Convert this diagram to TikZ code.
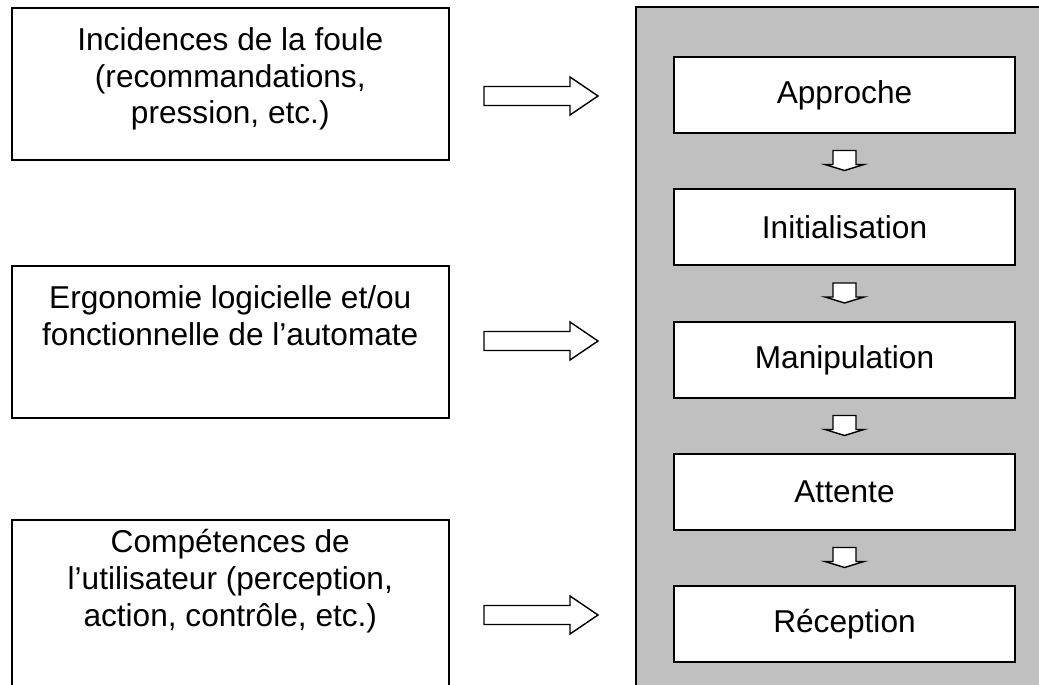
\documentclass[tikz,border=0pt]{standalone}
\usepackage{fontspec}
\setmainfont{Liberation Sans}
\usetikzlibrary{calc}
\newcommand\px{0.02cm}
\definecolor{panelgray}{HTML}{C0C0C0}
\tikzset{
  leftbox/.style={draw, line width=0.9pt, minimum width=437*\px, minimum height=152*\px, inner sep=0pt, anchor=north west},
  boxtext/.style={anchor=north, inner sep=0pt, align=center, font=\fontsize{18}{21}\selectfont},
  stepbox/.style={draw, fill=white, line width=0.9pt, minimum width=341*\px, minimum height=76*\px, font=\fontsize{18}{21}\selectfont},
  panel/.style={draw, fill=panelgray, line width=0.9pt},
  blockarrow/.style={draw, fill=white, line width=0.8pt, line join=miter}
}
\begin{document}
\begin{tikzpicture}[x=\px, y=-\px]
  \useasboundingbox (0,0) rectangle (1039,685);
  \clip (0,0) rectangle (1039,685);

  % ---- Grey panel (runs off the page) ---------------------------------------
  \draw[panel] (636,7) rectangle (1050,700);

  % ---- Factor boxes on the left --------------------------------------------
  \node[leftbox] (foule) at (11,7) {};
  \node[boxtext, yshift=-11.3pt] (foulelbl) at (foule.north)
    {Incidences de la foule\\(recommandations,\\pression, etc.)};

  \node[leftbox] (ergo) at (11,265) {};
  \node[boxtext, yshift=-11.3pt] (ergolbl) at (ergo.north)
    {Ergonomie logicielle et/ou\\fonctionnelle de l’automate};

  \node[leftbox, minimum height=200*\px] (comp) at (11,519) {};
  \node[boxtext, yshift=-5.6pt] (complbl) at (comp.north)
    {Compétences de\\l’utilisateur (perception,\\action, contrôle, etc.)};

  % ---- Steps inside the panel ----------------------------------------------
  \node[stepbox] (appr)  at (844.5,95)  {Approche};
  \node[stepbox] (init)  at (844.5,227) {Initialisation};
  \node[stepbox] (mani)  at (844.5,360) {Manipulation};
  \node[stepbox] (att)   at (844.5,492) {Attente};
  \node[stepbox] (recep) at (844.5,624) {Réception};

  % ---- Small hollow arrows between steps -----------------------------------
  \foreach \a/\b in {appr/init, init/mani, mani/att, att/recep}
    \draw[blockarrow] ($(\a.south)!0.5!(\b.north)$) ++(-11.5,-10.5)
      -- ++(0,14) -- ++(-8,0) -- ++(19.5,6) -- ++(19.5,-6)
      -- ++(-8,0) -- ++(0,-14) -- cycle;

  % ---- Big hollow arrows towards the panel ---------------------------------
  \foreach \y in {96,341,615}
    \draw[blockarrow] (484,\y-9.5) -- (570,\y-9.5) -- (570,\y-19) -- (598,\y)
      -- (570,\y+19) -- (570,\y+9.5) -- (484,\y+9.5) -- cycle;

\end{tikzpicture}
\end{document}
